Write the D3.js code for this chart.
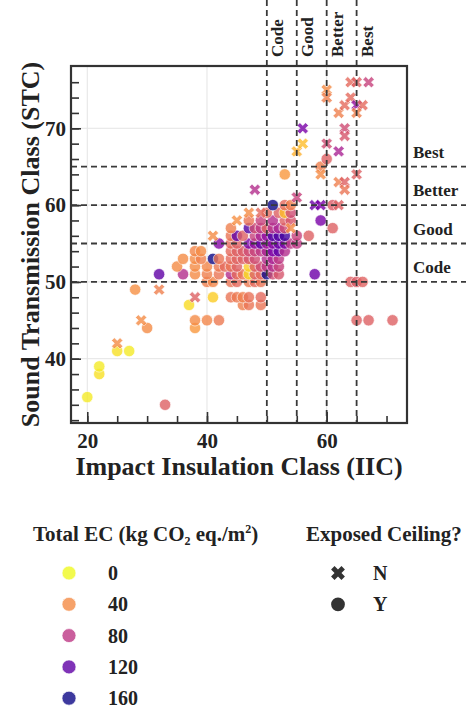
<!DOCTYPE html>
<html>
<head>
<meta charset="utf-8">
<script src="https://cdn.jsdelivr.net/npm/d3@7"></script>
<style>
  body { margin: 0; background: #fff; }
  svg text { font-family: "Liberation Serif", "Times New Roman", serif; font-weight: bold; fill: #222; }
</style>
</head>
<body>
<div id="container"></div>
<script>
(function() {

// Exposed ceiling = N (drawn as X)
let nIIC = [25, 29, 32, 38, 41, 45, 47, 48, 49, 54,
            55, 55, 56, 56, 58, 59, 59, 60, 60, 60,
            62, 62, 63, 63, 63, 62, 63, 63, 64, 64,
            65, 67, 65, 66, 65, 65, 62];
let nSTC = [42, 45, 49, 48, 56, 58, 59, 62, 59, 57,
            61, 67, 68, 70, 60, 60, 64, 68, 75, 74,
            67, 72, 73, 70, 69, 63, 63, 62, 74, 76,
            76, 76, 73, 73, 72, 64, 60];
let nEC = [40, 40, 45, 60, 40, 38, 40, 85, 55, 40,
           75, 25, 20, 110, 115, 110, 40, 70, 40, 45,
           90, 45, 55, 70, 65, 45, 60, 50, 55, 55,
           60, 75, 100, 55, 45, 60, 60];

// Exposed ceiling = Y (drawn as circles), roughly row by row of STC
let yIIC = [33, 20, 22, 22, 25, 27, 30, 38, 38, 40, 42, 65, 67, 71, 37, 46, 47, 49, 41, 44, 45, 46, 47, 49, 28,
            40, 41, 44, 45, 47, 48, 49, 64, 65, 66,
            32, 36, 38, 40, 42, 44, 45, 46, 47, 48, 49, 50, 51, 52, 58,
            35, 38, 40, 42, 43, 44, 45, 47, 48, 49, 50, 51, 52,
            36, 38, 39, 41, 42, 44, 45, 46, 47, 48, 50, 51, 52,
            38, 39, 44, 45, 46, 47, 48, 49, 50, 51, 52, 53,
            42, 44, 45, 47, 48, 49, 50, 51, 52, 53, 54, 55,
            44, 45, 46, 48, 49, 50, 51, 52, 53, 55, 57,
            44, 47, 48, 49, 50, 51, 52, 53, 61,
            47, 49, 51, 53, 54, 59,
            50, 52, 53, 54,
            51, 53, 54, 61,
            53, 59, 60];
let ySTC = [34, 35, 38, 39, 41, 41, 44, 44, 45, 45, 45, 45, 45, 45, 47, 47, 47, 47, 48, 48, 48, 48, 48, 48, 49,
            50, 50, 50, 50, 50, 50, 50, 50, 50, 50,
            51, 51, 51, 51, 51, 51, 51, 51, 51, 51, 51, 51, 51, 51, 51,
            52, 52, 52, 52, 52, 52, 52, 52, 52, 52, 52, 52, 52,
            53, 53, 53, 53, 53, 53, 53, 53, 53, 53, 53, 53, 53,
            54, 54, 54, 54, 54, 54, 54, 54, 54, 54, 54, 54,
            55, 55, 55, 55, 55, 55, 55, 55, 55, 55, 55, 55,
            56, 56, 56, 56, 56, 56, 56, 56, 56, 56, 56,
            57, 57, 57, 57, 57, 57, 57, 57, 57,
            58, 58, 58, 58, 58, 58,
            59, 59, 59, 59,
            60, 60, 60, 60,
            64, 65, 66];
let yEC = [60, 5, 8, 5, 8, 5, 40, 35, 40, 42, 48, 60, 60, 60, 10, 45, 50, 50, 15, 50, 48, 45, 52, 55, 38,
           45, 42, 50, 55, 48, 55, 50, 60, 62, 58,
           120, 85, 40, 45, 50, 85, 55, 50, 10, 60, 55, 160, 70, 65, 115,
           40, 40, 42, 48, 55, 50, 60, 15, 60, 70, 80, 85, 75,
           40, 40, 45, 160, 50, 55, 58, 60, 65, 70, 85, 90, 80,
           42, 40, 55, 60, 62, 70, 75, 80, 90, 110, 120, 85,
           105, 55, 60, 110, 100, 120, 95, 105, 115, 110, 80, 80,
           50, 120, 60, 75, 90, 100, 125, 125, 130, 75, 60,
           45, 125, 70, 80, 60, 85, 90, 70, 60,
           50, 75, 85, 60, 65, 110,
           55, 60, 20, 70,
           160, 55, 45, 62,
           35, 45, 60];

let ratingNames = ["Code", "Good", "Better", "Best"];
let iicRatings = [50, 55, 60, 65];
let stcRatings = [50, 55, 60, 65];
let ecLegendTicks = [0, 40, 80, 120, 160];
let exposedLevels = ["N", "Y"];
let xLabelTicks = [20, 40, 60];
let yLabelTicks = [40, 50, 60, 70];

let W = 466, H = 711;
let plot = { left: 71, right: 407, top: 66, bottom: 423 };

let svg = d3.select("#container")
  .append("svg")
    .attr("width", W)
    .attr("height", H);

let x = d3.scaleLinear().domain([17.28, 73.42]).range([plot.left, plot.right]);
let y = d3.scaleLinear().domain([31.63, 78.11]).range([plot.bottom, plot.top]);
let ecNorm = d3.scaleLinear().domain([0, 145]).range([1, 0]).clamp(true);
let color = (v) => d3.interpolatePlasma(ecNorm(v));

// grid
let grid = svg.append("g").attr("stroke", "#e4e4e4").attr("stroke-width", 1);
grid.selectAll(".gx").data(xLabelTicks).enter().append("line")
  .attr("x1", (d) => x(d)).attr("x2", (d) => x(d))
  .attr("y1", plot.top).attr("y2", plot.bottom);
grid.selectAll(".gy").data(yLabelTicks).enter().append("line")
  .attr("y1", (d) => y(d)).attr("y2", (d) => y(d))
  .attr("x1", plot.left).attr("x2", plot.right);

// axes, ticks pointing inward
function styleAxis(g) {
  g.select(".domain").remove();
  g.selectAll(".tick line").attr("stroke", "#333").attr("stroke-width", 1.6);
  g.selectAll("text").attr("fill", "#222").style("font-size", "21px");
}
svg.append("g")
  .attr("transform", "translate(0," + plot.bottom + ")")
  .call(d3.axisBottom(x).tickValues(d3.range(20, 71, 5)).tickSize(-7).tickFormat(""))
  .call(styleAxis);
svg.append("g")
  .attr("transform", "translate(0," + plot.bottom + ")")
  .call(d3.axisBottom(x).tickValues(xLabelTicks).tickSize(-11).tickPadding(10))
  .call(styleAxis);
svg.append("g")
  .attr("transform", "translate(" + plot.left + ",0)")
  .call(d3.axisLeft(y).tickValues(d3.range(32, 78, 2)).tickSize(-8).tickFormat(""))
  .call(styleAxis);
svg.append("g")
  .attr("transform", "translate(" + plot.left + ",0)")
  .call(d3.axisLeft(y).tickValues(yLabelTicks).tickSize(-10).tickPadding(5))
  .call(styleAxis);

// points
let cross = d3.symbol().type(d3.symbolCross).size(80);
let marks = svg.append("g");
marks.selectAll(".pt-y")
  .data(d3.range(yIIC.length))
  .enter()
  .append("circle")
    .attr("cx", (i) => x(yIIC[i]))
    .attr("cy", (i) => y(ySTC[i]))
    .attr("r", 5.7)
    .attr("fill", (i) => color(yEC[i]))
    .attr("stroke", "#fff")
    .attr("stroke-width", 0.7)
    .attr("opacity", 0.8);
marks.selectAll(".pt-n")
  .data(d3.range(nIIC.length))
  .enter()
  .append("path")
    .attr("d", cross)
    .attr("transform", (i) => "translate(" + x(nIIC[i]) + "," + y(nSTC[i]) + ") rotate(45)")
    .attr("fill", (i) => color(nEC[i]))
    .attr("stroke", "#fff")
    .attr("stroke-width", 0.6)
    .attr("opacity", 0.8);

// rating thresholds
let refs = svg.append("g")
  .attr("stroke", "#3a3a3a")
  .attr("stroke-width", 1.8)
  .attr("stroke-dasharray", "6,4");
refs.selectAll(".vline").data(iicRatings).enter().append("line")
  .attr("x1", (d) => x(d)).attr("x2", (d) => x(d))
  .attr("y1", 0).attr("y2", plot.bottom);
refs.selectAll(".hline").data(stcRatings).enter().append("line")
  .attr("y1", (d) => y(d)).attr("y2", (d) => y(d))
  .attr("x1", plot.left).attr("x2", W);

svg.selectAll(".vlab").data(iicRatings).enter().append("text")
  .attr("transform", (d) => "translate(" + (x(d) + 16) + ",57) rotate(-90)")
  .style("font-size", "17px")
  .text((d, i) => ratingNames[i]);
svg.selectAll(".hlab").data(stcRatings).enter().append("text")
  .attr("x", 413)
  .attr("y", (d) => y(d) - 9)
  .style("font-size", "17px")
  .text((d, i) => ratingNames[i]);

// frame
svg.append("rect")
  .attr("x", plot.left).attr("y", plot.top)
  .attr("width", plot.right - plot.left).attr("height", plot.bottom - plot.top)
  .attr("fill", "none")
  .attr("stroke", "#333")
  .attr("stroke-width", 2.2);

// axis titles
svg.append("text")
  .attr("x", (plot.left + plot.right) / 2)
  .attr("y", 475)
  .attr("text-anchor", "middle")
  .style("font-size", "26px")
  .text("Impact Insulation Class (IIC)");
svg.append("text")
  .attr("transform", "translate(39," + (plot.top + plot.bottom) / 2 + ") rotate(-90)")
  .attr("text-anchor", "middle")
  .style("font-size", "26px")
  .text("Sound Transmission Class (STC)");

// legend: colour
let ecTitle = svg.append("text")
  .attr("x", 33).attr("y", 541)
  .style("font-size", "21px");
ecTitle.append("tspan").text("Total EC (kg CO");
ecTitle.append("tspan").attr("dy", 4).style("font-size", "12px").text("2");
ecTitle.append("tspan").attr("dy", -4).text(" eq./m");
ecTitle.append("tspan").attr("dy", -8).style("font-size", "12px").text("2");
ecTitle.append("tspan").attr("dy", 8).text(")");

let ecLegend = svg.append("g")
  .selectAll(".ec-item")
  .data(ecLegendTicks)
  .enter()
  .append("g")
    .attr("transform", (d, i) => "translate(0," + (573 + i * 31.3) + ")");
ecLegend.append("circle")
  .attr("cx", 69).attr("r", 7)
  .attr("fill", (d) => color(d))
  .attr("stroke", "#fff")
  .attr("stroke-width", 0.7)
  .attr("opacity", 0.8);
ecLegend.append("text")
  .attr("x", 108).attr("dy", "0.35em")
  .style("font-size", "20px")
  .text((d) => d);

// legend: marker
svg.append("text")
  .attr("x", 306).attr("y", 541)
  .style("font-size", "21px")
  .text("Exposed Ceiling?");
let styleLegend = svg.append("g")
  .selectAll(".style-item")
  .data(exposedLevels)
  .enter()
  .append("g")
    .attr("transform", (d, i) => "translate(338," + (573 + i * 31.3) + ")");
styleLegend.append("path")
  .attr("d", (d) => d == "N" ? d3.symbol().type(d3.symbolCross).size(120)() : d3.symbol().type(d3.symbolCircle).size(150)())
  .attr("transform", (d) => d == "N" ? "rotate(45)" : null)
  .attr("fill", "#333");
styleLegend.append("text")
  .attr("x", 35).attr("dy", "0.35em")
  .style("font-size", "20px")
  .text((d) => d);

})();
</script>
</body>
</html>
